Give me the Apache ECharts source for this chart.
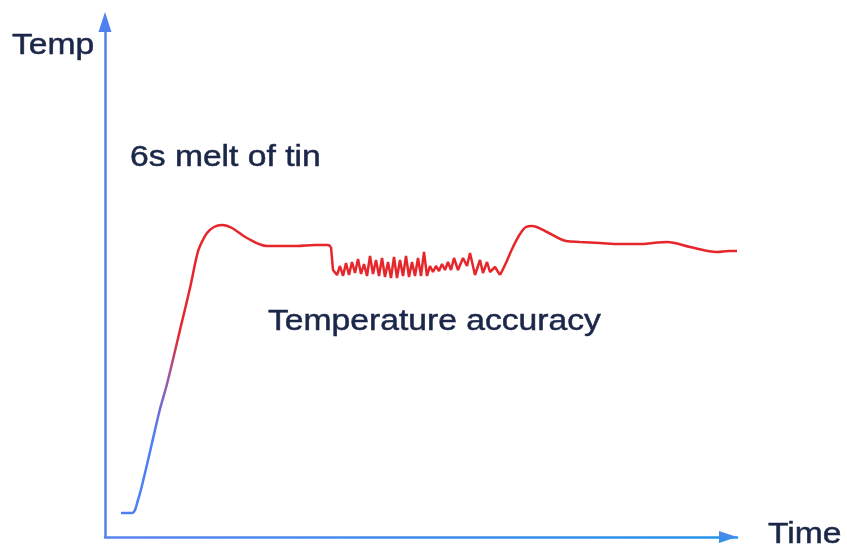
<!DOCTYPE html>
<html>
<head>
<meta charset="utf-8">
<script src="https://cdn.jsdelivr.net/npm/echarts@6/dist/echarts.min.js"></script>
<style>
html,body{margin:0;padding:0;background:#fff;}
#chart{width:847px;height:552px;}
</style>
</head>
<body>
<div id="chart"></div>
<script>
// Time (s) and temperature (arbitrary units)
const rampPlateau = [
  [1.6, 2.4], [2.7, 2.4], [3.3, 3.7], [4.0, 6.4], [4.7, 9.4], [5.5, 12.8],
  [6.2, 15.3], [7.5, 20.7], [8.5, 24.9], [9.2, 28.2], [9.5, 29.1], [10.2, 30.4],
  [10.9, 31.0], [11.7, 31.2], [12.7, 30.9], [14.2, 29.9], [16.2, 29.1],
  [19.2, 29.1], [21.0, 29.2], [22.3, 29.2], [22.6, 29.0]
];
const accuracyNoise = [
  [22.6, 29.0], [22.8, 26.7], [23.2, 26.2], [23.5, 27.1], [23.8, 26.1], [24.1, 27.4],
  [24.4, 26.2], [24.7, 27.5], [25.0, 26.4], [25.3, 27.8], [25.6, 26.3], [25.9, 27.3],
  [26.2, 26.1], [26.5, 28.1], [26.8, 26.3], [27.1, 27.7], [27.4, 26.1], [27.7, 27.9],
  [28.0, 26.0], [28.3, 27.5], [28.6, 25.9], [28.9, 28.0], [29.2, 25.9], [29.5, 27.7],
  [29.8, 26.1], [30.1, 28.1], [30.4, 26.0], [30.7, 27.5], [31.0, 26.1], [31.3, 27.9],
  [31.6, 26.1], [31.9, 28.5], [32.2, 26.1], [32.5, 27.1], [32.8, 26.5], [33.1, 27.1],
  [33.4, 26.6], [33.7, 27.3], [34.0, 26.7], [34.3, 27.5], [34.6, 26.7], [34.9, 27.9],
  [35.3, 26.7], [35.8, 27.9], [36.2, 27.1], [36.5, 28.4], [37.0, 26.2], [37.5, 27.7],
  [37.8, 26.4], [38.2, 27.5], [38.5, 26.5], [39.0, 27.0], [39.5, 26.2]
];
const recovery = [
  [39.5, 26.2], [40.0, 27.2], [40.8, 29.0], [41.5, 30.3], [42.1, 31.0], [42.7, 31.1],
  [44.0, 30.6], [46.1, 29.6], [47.5, 29.5], [49.5, 29.4], [51.5, 29.3], [53.5, 29.3],
  [54.8, 29.4], [56.2, 29.5], [58.5, 29.0], [61.2, 28.5], [62.4, 28.6], [63.2, 28.6]
];
const axisNames = { y: 'Temp', x: 'Time' };
const notes = { melt: '6s melt of tin', accuracy: 'Temperature accuracy' };

const RED = '#e5262b';
const BLUE = '#4d7ff0';
const TEXT = '#1b2749';
const FONT = '29px "Liberation Sans", Arial, sans-serif';
const SX = 1.16;

const chart = echarts.init(document.getElementById('chart'), null, { renderer: 'canvas' });

function label(text, x, y) {
  return {
    type: 'text', x: x, y: y, scaleX: SX, scaleY: 1, z: 10,
    style: {
      text: text, font: FONT, fill: TEXT, stroke: TEXT, lineWidth: 0.5,
      textAlign: 'left', textVerticalAlign: 'middle'
    }
  };
}

chart.setOption({
  animation: false,
  grid: { left: 105, right: 110, top: 22, bottom: 15, containLabel: false },
  xAxis: {
    type: 'value', min: 0, max: 63.2,
    axisLine: {
      show: true, onZero: false,
      symbol: ['none', 'triangle'], symbolSize: [12, 18], symbolOffset: [0, -9],
      lineStyle: {
        width: 2.5,
        color: new echarts.graphic.LinearGradient(0, 0, 1, 0, [
          { offset: 0, color: '#5a84ee' }, { offset: 1, color: '#2594e8' }
        ])
      }
    },
    axisTick: { show: false }, axisLabel: { show: false }, splitLine: { show: false }
  },
  yAxis: {
    type: 'value', min: 0, max: 51.5,
    axisLine: {
      show: true, onZero: false,
      symbol: ['none', 'triangle'], symbolSize: [13, 20],
      lineStyle: { width: 2.5, color: '#4f80f0' }
    },
    axisTick: { show: false }, axisLabel: { show: false }, splitLine: { show: false }
  },
  series: [
    {
      type: 'line', data: rampPlateau, smooth: 0.35, showSymbol: false, clip: false,
      lineStyle: {
        width: 2.5,
        color: new echarts.graphic.LinearGradient(0, 0, 0, 1, [
          { offset: 0, color: RED }, { offset: 0.38, color: RED },
          { offset: 0.52, color: '#a0569f' }, { offset: 0.72, color: BLUE },
          { offset: 1, color: BLUE }
        ])
      }
    },
    {
      type: 'line', data: accuracyNoise, smooth: false, showSymbol: false, clip: false,
      lineStyle: { width: 2.5, color: RED }
    },
    {
      type: 'line', data: recovery, smooth: 0.35, showSymbol: false, clip: false,
      lineStyle: { width: 2.5, color: RED }
    }
  ],
  graphic: [
    label(axisNames.y, 12, 46),
    label(notes.melt, 130, 158),
    label(notes.accuracy, 268, 322),
    label(axisNames.x, 768, 535)
  ]
});
</script>
</body>
</html>
